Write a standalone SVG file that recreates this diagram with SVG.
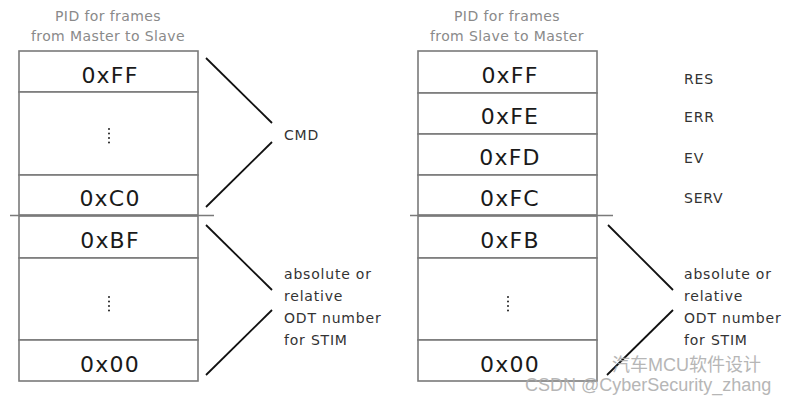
<svg xmlns="http://www.w3.org/2000/svg" width="790" height="400" viewBox="0 0 790 400">
<style>
.cell{fill:#fff;stroke:#7a7a7a;stroke-width:1.6}
.div{stroke:#7a7a7a;stroke-width:1.6}
.val{font-family:"DejaVu Sans",sans-serif;font-size:22px;fill:#1a1a1a;text-anchor:middle;letter-spacing:1.2px}
.title{font-family:"DejaVu Sans",sans-serif;font-size:14px;fill:#8a8a8a;text-anchor:middle;letter-spacing:0.4px}
.lbl{font-family:"DejaVu Sans",sans-serif;font-size:14px;fill:#333;letter-spacing:0.8px}
.con{stroke:#111;stroke-width:1.8;fill:none}
.dots{stroke:#222;stroke-width:2;stroke-linecap:round;stroke-dasharray:0 4.5}
.wm{font-family:"Liberation Sans","Noto Sans CJK SC",sans-serif;font-size:18px;fill:#aaa;opacity:0.85}
</style>
<rect width="790" height="400" fill="#fff"/>
<g id="left-table">
<text class="title" x="108" y="21">PID for frames</text>
<text class="title" x="108" y="41">from Master to Slave</text>
<g id="l-ff"><rect class="cell" x="19" y="51" width="179" height="41"/><text class="val" x="110" y="83">0xFF</text></g>
<g id="l-dots1"><rect class="cell" x="19" y="92" width="179" height="83"/><line class="dots" x1="109" y1="129" x2="109" y2="144"/></g>
<g id="l-c0"><rect class="cell" x="19" y="175" width="179" height="40"/><text class="val" x="110" y="206">0xC0</text></g>
<g id="l-bf"><rect class="cell" x="19" y="216" width="179" height="42"/><text class="val" x="110" y="248">0xBF</text></g>
<g id="l-dots2"><rect class="cell" x="19" y="258" width="179" height="82"/><line class="dots" x1="109" y1="297" x2="109" y2="312"/></g>
<g id="l-00"><rect class="cell" x="19" y="340" width="179" height="41"/><text class="val" x="110" y="372">0x00</text></g>
<line class="div" x1="10" y1="215.5" x2="214" y2="215.5"/>
</g>
<g id="right-table">
<text class="title" x="507" y="21">PID for frames</text>
<text class="title" x="507" y="41">from Slave to Master</text>
<g id="r-ff"><rect class="cell" x="418" y="51" width="179" height="42"/><text class="val" x="510" y="83">0xFF</text></g>
<g id="r-fe"><rect class="cell" x="418" y="93" width="179" height="41"/><text class="val" x="510" y="124">0xFE</text></g>
<g id="r-fd"><rect class="cell" x="418" y="134" width="179" height="41"/><text class="val" x="510" y="165">0xFD</text></g>
<g id="r-fc"><rect class="cell" x="418" y="175" width="179" height="40"/><text class="val" x="510" y="206">0xFC</text></g>
<g id="r-fb"><rect class="cell" x="418" y="216" width="179" height="42"/><text class="val" x="510" y="248">0xFB</text></g>
<g id="r-dots"><rect class="cell" x="418" y="258" width="179" height="82"/><line class="dots" x1="508" y1="297" x2="508" y2="312"/></g>
<g id="r-00"><rect class="cell" x="418" y="340" width="179" height="41"/><text class="val" x="510" y="372">0x00</text></g>
<line class="div" x1="410" y1="215.5" x2="613" y2="215.5"/>
</g>
<g id="labels">
<text class="lbl" x="284" y="140">CMD</text>
<text class="lbl" x="284" y="279">absolute or</text>
<text class="lbl" x="284" y="301">relative</text>
<text class="lbl" x="284" y="323">ODT number</text>
<text class="lbl" x="284" y="345">for STIM</text>
<text class="lbl" x="684" y="84">RES</text>
<text class="lbl" x="684" y="122">ERR</text>
<text class="lbl" x="684" y="163">EV</text>
<text class="lbl" x="684" y="203">SERV</text>
<text class="lbl" x="684" y="279">absolute or</text>
<text class="lbl" x="684" y="301">relative</text>
<text class="lbl" x="684" y="323">ODT number</text>
<text class="lbl" x="684" y="345">for STIM</text>
</g>
<g id="connectors">
<line class="con" x1="206" y1="58" x2="272" y2="123"/>
<line class="con" x1="272" y1="142" x2="206" y2="207"/>
<line class="con" x1="206" y1="225" x2="272" y2="290"/>
<line class="con" x1="272" y1="310" x2="206" y2="375"/>
<line class="con" x1="608" y1="225" x2="673" y2="290"/>
<line class="con" x1="673" y1="310" x2="607" y2="375"/>
</g>
<g id="watermark">
<text class="wm" x="612" y="371">汽车MCU软件设计</text>
<text class="wm" x="525" y="391">CSDN @CyberSecurity_zhang</text>
</g>
</svg>
